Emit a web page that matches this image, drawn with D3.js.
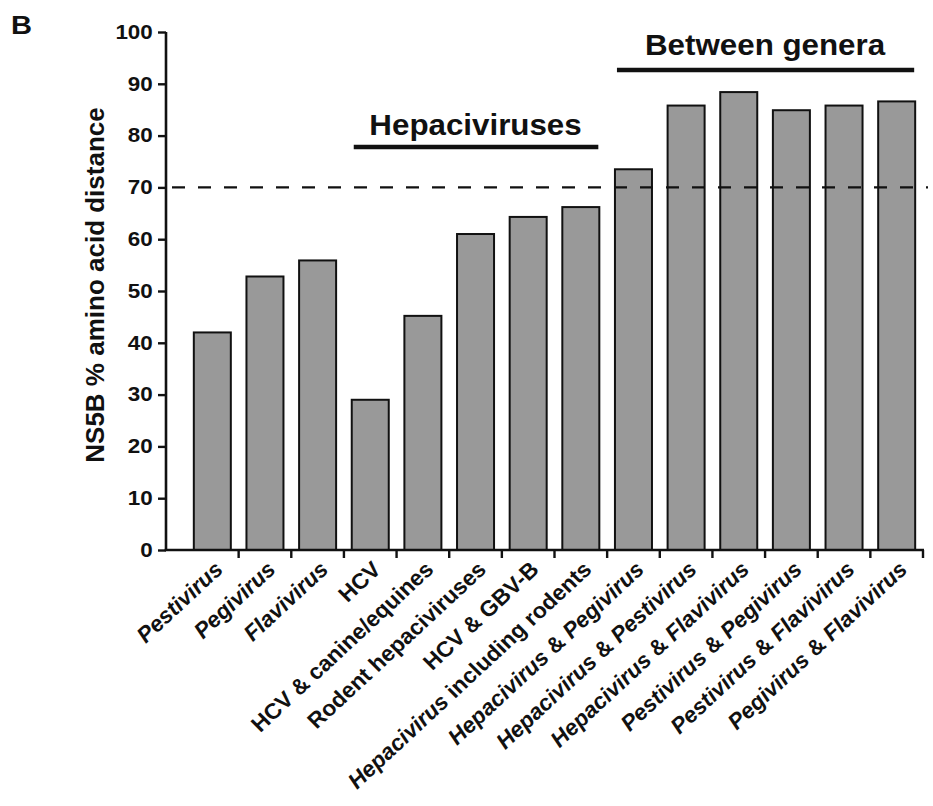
<!DOCTYPE html>
<html>
<head>
<meta charset="utf-8">
<script src="https://cdn.jsdelivr.net/npm/d3@7"></script>
<style>
  html, body { margin: 0; padding: 0; background: #fff; }
  svg { display: block; font-family: "Liberation Sans", Arial, Helvetica, sans-serif; }
</style>
</head>
<body>
<svg id="chart" width="933" height="806"></svg>
<script>
// ---- data ----
// each label is a list of [text, italic] parts
const categories = [
  [["Pestivirus", true]],
  [["Pegivirus", true]],
  [["Flavivirus", true]],
  [["HCV", false]],
  [["HCV & canine/equines", false]],
  [["Rodent hepaciviruses", false]],
  [["HCV & GBV-B", false]],
  [["Hepacivirus", true], [" including rodents", false]],
  [["Hepacivirus", true], [" & ", false], ["Pegivirus", true]],
  [["Hepacivirus", true], [" & ", false], ["Pestivirus", true]],
  [["Hepacivirus", true], [" & ", false], ["Flavivirus", true]],
  [["Pestivirus", true], [" & ", false], ["Pegivirus", true]],
  [["Pestivirus", true], [" & ", false], ["Flavivirus", true]],
  [["Pegivirus", true], [" & ", false], ["Flavivirus", true]]
];
const distances = [42.0, 52.8, 55.9, 29.0, 45.2, 61.0, 64.3, 66.2, 73.5, 85.8, 88.4, 84.9, 85.8, 86.6];
const yTicks = [0, 10, 20, 30, 40, 50, 60, 70, 80, 90, 100];
const threshold = 70;
const groups = [
  { label: "Hepaciviruses", from: 3, to: 7 },
  { label: "Between genera", from: 8, to: 13 }
];
const yTitle = "NS5B % amino acid distance";
const panelLetter = "B";

// ---- layout ----
const svg = d3.select("#chart");
const axisX = 166, plotLeft = 186, plotRight = 923;
const yTop = 32, yBottom = 550;
const ids = categories.map((d, i) => i);

const x = d3.scaleBand().domain(ids).range([plotLeft, plotRight]).paddingInner(0.297).paddingOuter(0.1485);
const y = d3.scaleLinear().domain([0, 100]).range([yBottom, yTop]);
const step = x.step();

// bars
svg.append("g").selectAll("rect").data(distances).enter().append("rect")
  .attr("x", (d, i) => x(i))
  .attr("y", d => y(d))
  .attr("width", x.bandwidth())
  .attr("height", d => y(0) - y(d))
  .attr("fill", "#999999")
  .attr("stroke", "#111")
  .attr("stroke-width", 2);

// threshold dashed line
svg.append("line")
  .attr("x1", axisX).attr("x2", plotRight + 5)
  .attr("y1", y(threshold)).attr("y2", y(threshold))
  .attr("stroke", "#111").attr("stroke-width", 2.2)
  .attr("stroke-dasharray", "13,13")
  .attr("stroke-dashoffset", -6);

// y axis
const yAxis = svg.append("g")
  .attr("transform", `translate(${axisX},0)`)
  .call(d3.axisLeft(y).tickValues(yTicks).tickSize(8).tickFormat(d3.format("d")));
yAxis.select(".domain").attr("d", `M0,${yTop}V${yBottom}`).attr("stroke", "#111").attr("stroke-width", 2.6);
yAxis.selectAll(".tick line").attr("stroke", "#111").attr("stroke-width", 2.4);
yAxis.selectAll(".tick text")
  .attr("x", -11.5).attr("transform", "scale(1.15,1)")
  .attr("font-size", 19.5).attr("font-weight", "bold").attr("fill", "#111")
  .attr("font-family", "Liberation Sans, Arial, sans-serif");

// x axis line
svg.append("line")
  .attr("x1", axisX - 1.3).attr("x2", plotRight + 1)
  .attr("y1", yBottom).attr("y2", yBottom)
  .attr("stroke", "#111").attr("stroke-width", 2.6);
// x ticks at category boundaries (right edge of each category)
svg.append("g").selectAll("line").data(ids).enter().append("line")
  .attr("x1", i => x(i) - (step - x.bandwidth()) / 2 + step)
  .attr("x2", i => x(i) - (step - x.bandwidth()) / 2 + step)
  .attr("y1", yBottom).attr("y2", yBottom + 8)
  .attr("stroke", "#111").attr("stroke-width", 2.4);

// x labels rotated
const xl = svg.append("g").selectAll("text").data(categories).enter().append("text")
  .attr("transform", (d, i) => `translate(${x(i) + x.bandwidth() / 2 + 12},571) scale(1.04,1) rotate(-44)`)
  .attr("text-anchor", "end")
  .attr("font-size", 22).attr("font-weight", "bold").attr("fill", "#111");
xl.each(function(parts) {
  const t = d3.select(this);
  parts.forEach(p => {
    t.append("tspan").text(p[0]).attr("font-style", p[1] ? "italic" : "normal");
  });
});

// y title
svg.append("text")
  .attr("transform", "translate(104,285) rotate(-90)")
  .attr("text-anchor", "middle")
  .attr("font-size", 26).attr("font-weight", "bold").attr("fill", "#111")
  .text(yTitle);

// group brackets
const groupText = [{ y: 135, size: 29 }, { y: 55, size: 29 }];
const groupLineY = [147, 70];
groups.forEach((g, k) => {
  const x1 = x(g.from), x2 = x(g.to) + x.bandwidth();
  svg.append("line")
    .attr("x1", x1 + 2).attr("x2", x2 - 1)
    .attr("y1", groupLineY[k]).attr("y2", groupLineY[k])
    .attr("stroke", "#111").attr("stroke-width", 4.5);
  svg.append("text")
    .attr("transform", `translate(${(x1 + x2) / 2},${groupText[k].y}) scale(1.08,1)`)
    .attr("text-anchor", "middle")
    .attr("font-size", groupText[k].size).attr("font-weight", "bold").attr("fill", "#111")
    .text(g.label);
});

// panel letter
svg.append("text")
  .attr("transform", "translate(11,34) scale(1.12,1)")
  .attr("font-size", 26).attr("font-weight", "bold").attr("fill", "#111")
  .text(panelLetter);
</script>
</body>
</html>
